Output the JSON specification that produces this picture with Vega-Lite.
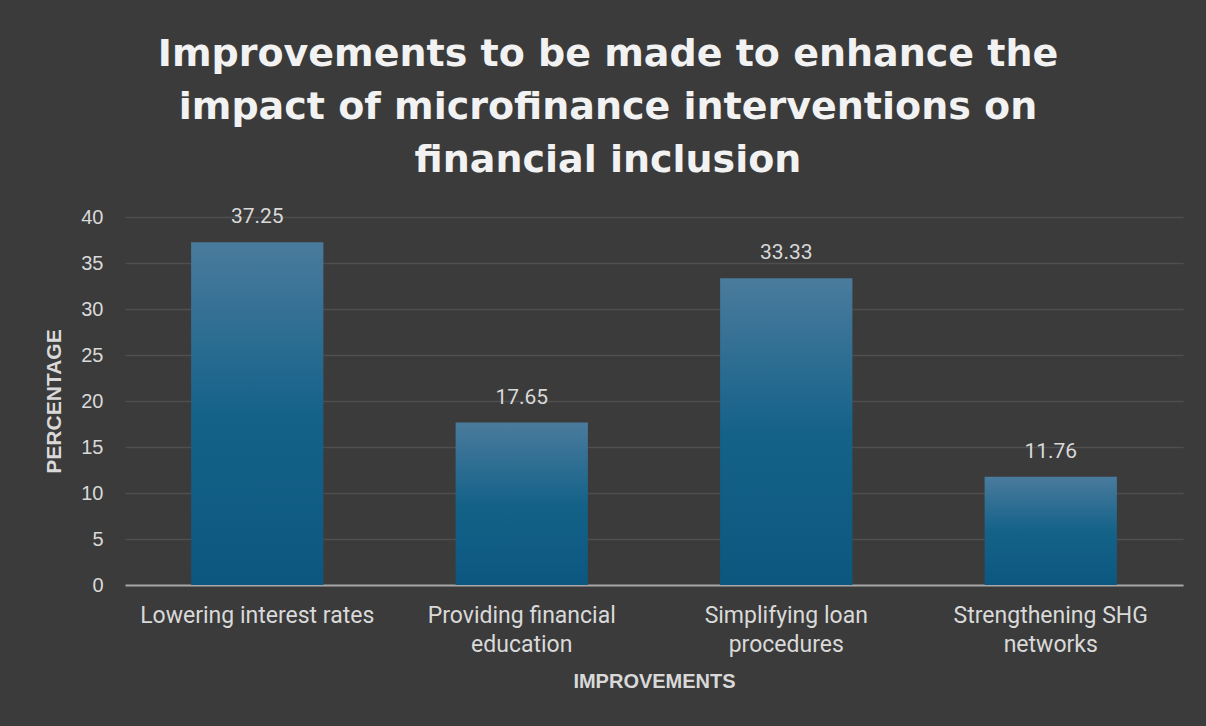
{
  "$schema": "https://vega.github.io/schema/vega-lite/v6.json",
  "autosize": "none",
  "width": 1058,
  "height": 368,
  "padding": {"left": 125, "top": 217, "right": 23, "bottom": 141},
  "background": "#3b3b3b",
  "config": {"view": {"stroke": null}},
  "title": {
    "text": ["Improvements to be made to enhance the", "impact of microfinance interventions on", "financial inclusion"],
    "font": "DejaVu Sans",
    "fontWeight": "bold",
    "fontSize": 38,
    "color": "#f2f2f2",
    "lineHeight": 53,
    "anchor": "middle",
    "frame": "group",
    "dx": -46,
    "offset": 26
  },
  "data": {
    "values": [
      {"improvement": "Lowering interest rates", "percentage": 37.25},
      {"improvement": "Providing financial education", "percentage": 17.65},
      {"improvement": "Simplifying loan procedures", "percentage": 33.33},
      {"improvement": "Strengthening SHG networks", "percentage": 11.76}
    ]
  },
  "encoding": {
    "x": {
      "field": "improvement",
      "type": "nominal",
      "sort": null,
      "scale": {"paddingInner": 0.5, "paddingOuter": 0.25},
      "axis": {
        "title": "IMPROVEMENTS",
        "titleFont": "Liberation Sans",
        "titleFontWeight": "bold",
        "titleFontSize": 20,
        "titleColor": "#d9d9d9",
        "titlePadding": 15,
        "labelAngle": 0,
        "labelFont": "Roboto",
        "labelFontSize": 23,
        "labelColor": "#d9d9d9",
        "labelPadding": 19,
        "labelLineHeight": 29,
        "labelLimit": 0,
        "labelExpr": "datum.value == 'Providing financial education' ? ['Providing financial', 'education'] : datum.value == 'Simplifying loan procedures' ? ['Simplifying loan', 'procedures'] : datum.value == 'Strengthening SHG networks' ? ['Strengthening SHG', 'networks'] : datum.value",
        "ticks": false,
        "domainColor": "#a6a6a6",
        "domainWidth": 2,
        "grid": false
      }
    },
    "y": {
      "field": "percentage",
      "type": "quantitative",
      "scale": {"domain": [0, 40]},
      "axis": {
        "title": "PERCENTAGE",
        "titleFont": "Liberation Sans",
        "titleFontWeight": "bold",
        "titleFontSize": 21,
        "titleColor": "#d9d9d9",
        "titlePadding": 16,
        "values": [0, 5, 10, 15, 20, 25, 30, 35, 40],
        "labelFont": "Liberation Sans",
        "labelFontSize": 20,
        "labelColor": "#d9d9d9",
        "labelPadding": 22,
        "ticks": false,
        "domain": false,
        "grid": true,
        "gridColor": "#ffffff",
        "gridOpacity": 0.1,
        "gridWidth": 1.5
      }
    }
  },
  "layer": [
    {
      "mark": {
        "type": "bar",
        "color": {
          "gradient": "linear",
          "x1": 0, "y1": 0, "x2": 0, "y2": 1,
          "stops": [
            {"offset": 0, "color": "#4a7b9d"},
            {"offset": 0.5, "color": "#156289"},
            {"offset": 1, "color": "#0b5780"}
          ]
        }
      }
    },
    {
      "mark": {
        "type": "text",
        "font": "Roboto",
        "fontSize": 21,
        "color": "#d9d9d9",
        "baseline": "alphabetic",
        "dy": -19
      },
      "encoding": {
        "text": {"field": "percentage", "type": "quantitative", "format": ".2f"}
      }
    }
  ]
}
